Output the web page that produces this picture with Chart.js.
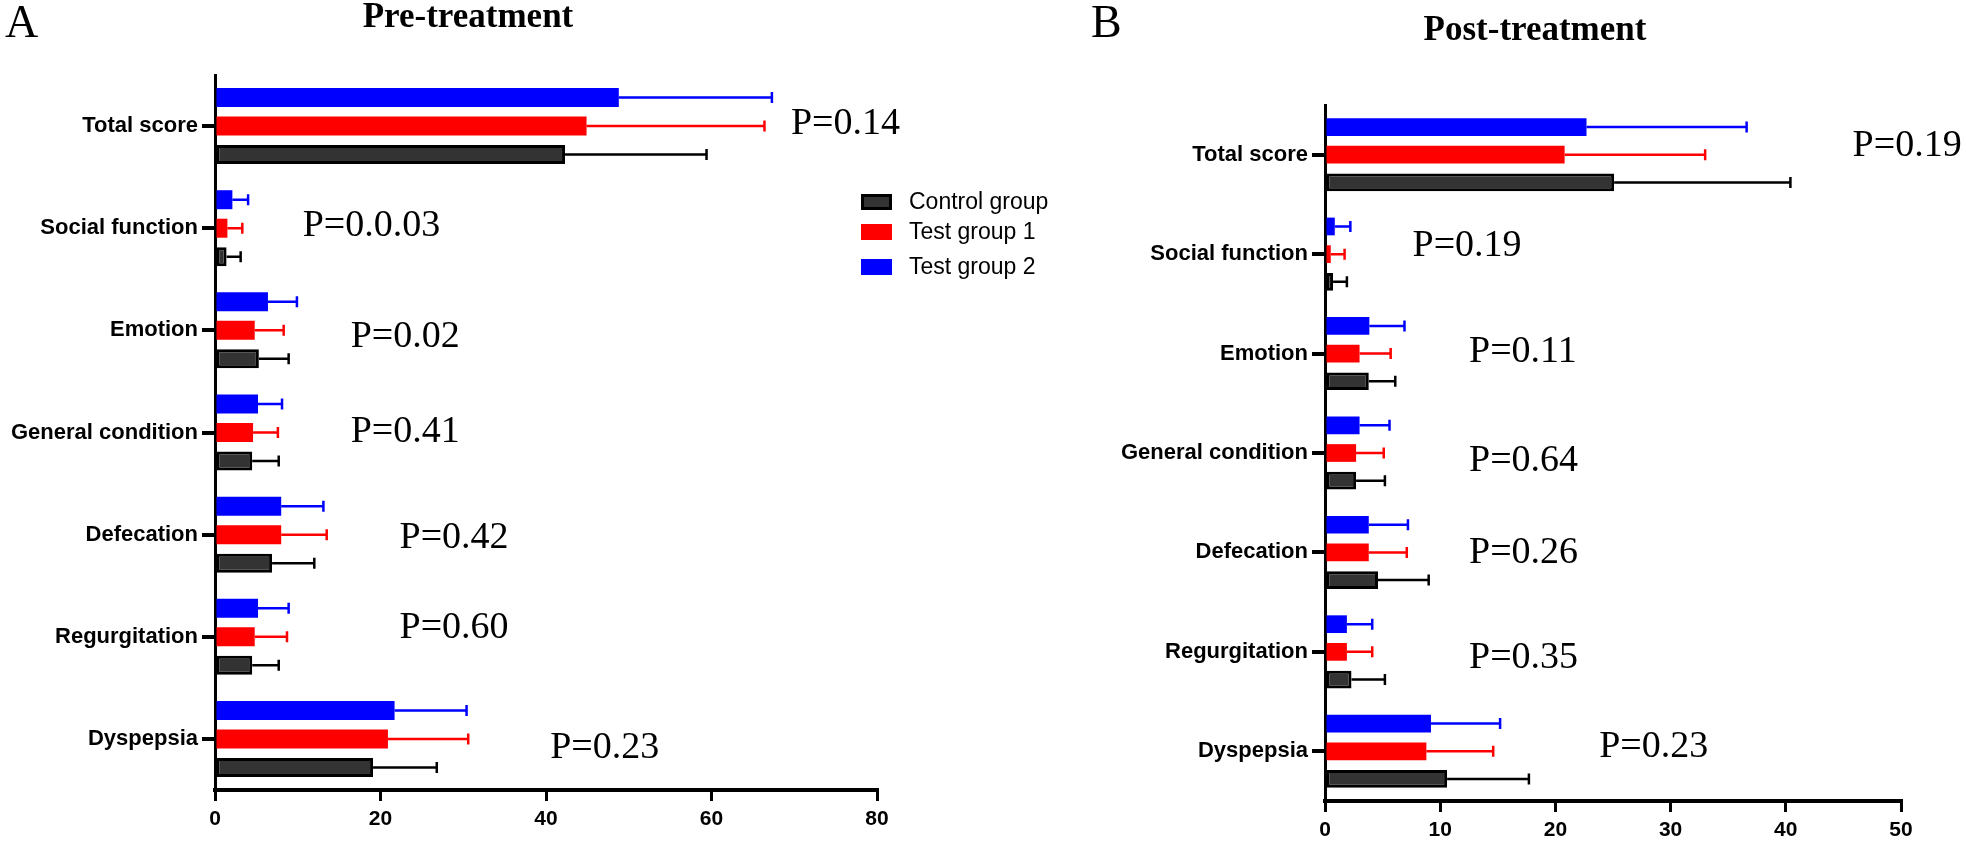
<!DOCTYPE html>
<html>
<head>
<meta charset="utf-8">
<script src="https://cdn.jsdelivr.net/npm/chart.js@4.4.0/dist/chart.umd.min.js"></script>
<style>
  body { margin: 0; background: #fff; width: 1966px; height: 848px; overflow: hidden; position: relative; }
  canvas { position: absolute; top: 0; }
</style>
</head>
<body>
<canvas id="pre" width="1070" height="848" style="left:0"></canvas>
<canvas id="post" width="966" height="848" style="left:1000px"></canvas>
<script>
// categories, top to bottom
const categories = ['Total score', 'Social function', 'Emotion', 'General condition', 'Defecation', 'Regurgitation', 'Dyspepsia'];
const groupNames = ['Control group', 'Test group 1', 'Test group 2'];

// pre-treatment: means and SD
const preControl   = [42.3, 1.4, 5.3, 4.5, 6.9, 4.5, 19.1];
const preControlSd = [17.1, 1.7, 3.6, 3.2, 5.1, 3.2, 7.7];
const preTest1     = [44.9, 1.5, 4.8, 4.6, 8.0, 4.8, 20.9];
const preTest1Sd   = [21.5, 1.8, 3.5, 3.0, 5.5, 3.9, 9.7];
const preTest2     = [48.8, 2.1, 6.4, 5.2, 8.0, 5.2, 21.7];
const preTest2Sd   = [18.5, 1.9, 3.5, 2.9, 5.1, 3.7, 8.7];
const preP = ['P=0.14', 'P=0.0.03', 'P=0.02', 'P=0.41', 'P=0.42', 'P=0.60', 'P=0.23'];
const preTicks = { max: 80, step: 20 };

// post-treatment: means and SD
const postControl   = [25.1, 0.7, 3.8, 2.7, 4.6, 2.3, 10.6];
const postControlSd = [15.3, 1.2, 2.3, 2.5, 4.4, 2.9, 7.1];
const postTest1     = [20.8, 0.5, 3.0, 2.7, 3.8, 1.9, 8.8];
const postTest1Sd   = [12.2, 1.2, 2.7, 2.4, 3.3, 2.2, 5.8];
const postTest2     = [22.7, 0.85, 3.85, 3.0, 3.8, 1.9, 9.2];
const postTest2Sd   = [13.9, 1.35, 3.05, 2.6, 3.4, 2.2, 6.0];
const postP = ['P=0.19', 'P=0.19', 'P=0.11', 'P=0.64', 'P=0.26', 'P=0.35', 'P=0.23'];
const postTicks = { max: 50, step: 10 };

const SANS = "'Liberation Sans', Arial, sans-serif";
const SERIF = "'Liberation Serif', 'Times New Roman', serif";

// error bars (mean + SD) drawn through the x scale
const errorBars = {
  id: 'errorBars',
  afterDatasetsDraw(chart) {
    const ctx = chart.ctx, xs = chart.scales.x;
    chart.data.datasets.forEach((ds, i) => {
      const meta = chart.getDatasetMeta(i);
      ctx.save();
      ctx.strokeStyle = ds.errColor;
      ctx.lineWidth = 2.5;
      meta.data.forEach((bar, j) => {
        const x1 = xs.getPixelForValue(ds.data[j] + ds.sd[j]);
        ctx.beginPath();
        ctx.moveTo(bar.x, bar.y);
        ctx.lineTo(x1, bar.y);
        ctx.moveTo(x1, bar.y - 5.5);
        ctx.lineTo(x1, bar.y + 5.5);
        ctx.stroke();
      });
      ctx.restore();
    });
  }
};

// panel letter, title, p values, legend
const decor = {
  id: 'decor',
  afterDraw(chart, args, o) {
    const ctx = chart.ctx, xs = chart.scales.x, ys = chart.scales.y;
    ctx.save();
    ctx.fillStyle = '#000';
    ctx.textBaseline = 'alphabetic';
    ctx.font = '46px ' + SERIF;
    ctx.textAlign = 'left';
    ctx.fillText(o.letter, o.letterX, 37);
    ctx.font = 'bold 35px ' + SERIF;
    ctx.textAlign = 'center';
    ctx.fillText(o.title, o.titleX, o.titleY);
    ctx.font = '38px ' + SERIF;
    ctx.textAlign = 'left';
    ctx.textBaseline = 'middle';
    o.p.forEach((t, i) => {
      ctx.fillText(t, xs.getPixelForValue(o.pX[i]), ys.getPixelForValue(i) + o.pDy[i]);
    });
    if (o.legend) {
      const ds = chart.data.datasets.slice().reverse();
      const rows = [202, 232, 267];
      ctx.font = '23px ' + SANS;
      ds.forEach((d, i) => {
        const y = rows[i];
        ctx.fillStyle = d.backgroundColor;
        ctx.fillRect(861, y - 8, 31, 16);
        if (d.borderWidth) {
          ctx.strokeStyle = d.borderColor;
          ctx.lineWidth = 3;
          ctx.strokeRect(862.5, y - 6.5, 28, 13);
        }
        ctx.fillStyle = '#000';
        ctx.fillText(d.label, 909, y + 1);
      });
    }
    ctx.restore();
  }
};

function makeChart(id, d) {
  const datasets = [
    { label: groupNames[2], data: d.t2, sd: d.t2sd, backgroundColor: '#0000ff', errColor: '#0000ff', borderWidth: 0 },
    { label: groupNames[1], data: d.t1, sd: d.t1sd, backgroundColor: '#ff0000', errColor: '#ff0000', borderWidth: 0 },
    { label: groupNames[0], data: d.c, sd: d.csd, backgroundColor: '#333333', borderColor: '#000000', errColor: '#000000', borderWidth: 3, borderSkipped: false }
  ];
  return new Chart(document.getElementById(id), {
    type: 'bar',
    data: { labels: categories, datasets: datasets },
    options: {
      indexAxis: 'y',
      responsive: false,
      animation: false,
      devicePixelRatio: 1,
      categoryPercentage: d.catPct,
      barPercentage: d.barPct,
      layout: { padding: d.padding },
      scales: {
        x: {
          min: 0, max: d.ticks.max,
          ticks: { stepSize: d.ticks.step, color: '#000', font: { family: SANS, size: 21, weight: 'bold' }, padding: 6 },
          grid: { drawOnChartArea: false, drawTicks: true, tickLength: 11, lineWidth: 3, color: '#000' },
          border: { display: true, color: '#000', width: 4 },
          afterFit(s) { s.height = d.xHeight; }
        },
        y: {
          ticks: { color: '#000', font: { family: SANS, size: 22, weight: 'bold' }, padding: 4 },
          grid: { offset: false, drawOnChartArea: false, drawTicks: true, tickLength: 13, lineWidth: 4, color: '#000' },
          border: { display: true, color: '#000', width: 3 },
          afterFit(s) { s.width = d.yWidth; }
        }
      },
      plugins: {
        legend: { display: false },
        tooltip: { enabled: false },
        decor: d.decor
      }
    },
    plugins: [errorBars, decor]
  });
}

makeChart('pre', {
  c: preControl, csd: preControlSd, t1: preTest1, t1sd: preTest1Sd, t2: preTest2, t2sd: preTest2Sd,
  ticks: preTicks, catPct: 0.837, barPct: 0.667,
  padding: { top: 75, right: 193, left: 0, bottom: 0 }, yWidth: 215, xHeight: 58,
  decor: {
    letter: 'A', letterX: 5, title: 'Pre-treatment', titleX: 468, titleY: 27, legend: true,
    p: preP, pX: [69.6, 10.6, 16.4, 16.4, 22.3, 22.3, 40.5], pDy: [-2, -2, 7, 0, 3, -9, 9]
  }
});

makeChart('post', {
  c: postControl, csd: postControlSd, t1: postTest1, t1sd: postTest1Sd, t2: postTest2, t2sd: postTest2Sd,
  ticks: postTicks, catPct: 0.835, barPct: 0.64,
  padding: { top: 105, right: 65, left: 0, bottom: 0 }, yWidth: 325, xHeight: 47,
  decor: {
    letter: 'B', letterX: 91, title: 'Post-treatment', titleX: 535, titleY: 40, legend: false,
    p: postP, pX: [45.8, 7.6, 12.5, 12.5, 12.5, 12.5, 23.8], pDy: [-9, -8, -2, 8, 1, 6, -4]
  }
});
</script>
</body>
</html>
